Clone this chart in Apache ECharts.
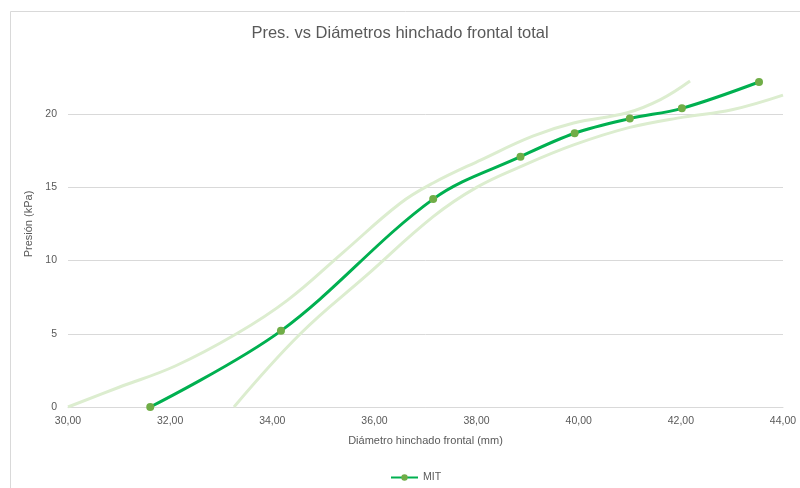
<!DOCTYPE html>
<html>
<head>
<meta charset="utf-8">
<script src="https://cdn.jsdelivr.net/npm/echarts@6/dist/echarts.min.js"></script>
<style>
  html, body { margin: 0; padding: 0; background: #ffffff; }
  #chart { width: 800px; height: 488px; }
</style>
</head>
<body>
<div id="chart"></div>
<script>
// Measured series: swelling diameter (mm) vs pressure (kPa)
const diametro = [31.61, 34.17, 37.15, 38.86, 39.92, 41.00, 42.02, 43.53];
const presion  = [0, 5.2, 14.2, 17.1, 18.7, 19.7, 20.4, 22.2];

// Upper envelope
const bandaSupX = [30.0, 31.0, 32.1, 33.3, 34.3, 35.4, 36.5, 37.15, 38.1, 39.1, 39.9, 40.95, 41.6, 42.18];
const bandaSupY = [0, 1.35, 2.8, 5.0, 7.3, 10.6, 13.9, 15.3, 16.9, 18.5, 19.4, 20.1, 21.0, 22.27];

// Lower envelope
const bandaInfX = [33.25, 34.55, 35.85, 37.15, 38.0, 38.85, 39.9, 41.0, 42.05, 43.0, 44.0];
const bandaInfY = [0, 5.0, 9.0, 13.0, 15.0, 16.4, 17.9, 19.1, 19.8, 20.3, 21.3];

const pares = (xs, ys) => xs.map((x, i) => [x, ys[i]]);

const chart = echarts.init(document.getElementById('chart'));
const gris = '#595959';
const fuente = 'Liberation Sans, Arial, sans-serif';

chart.setOption({
  animation: false,
  backgroundColor: '#ffffff',
  graphic: [{
    type: 'rect',
    shape: { x: 10.5, y: 11.5, width: 800, height: 500 },
    style: { fill: 'none', stroke: '#d9d9d9', lineWidth: 1 },
    silent: true
  }],
  title: {
    text: 'Pres. vs Diámetros hinchado frontal total',
    left: 'center',
    top: 20,
    textStyle: { color: gris, fontSize: 16.5, fontWeight: 'normal', fontFamily: fuente }
  },
  legend: {
    data: ['MIT'],
    left: 385,
    top: 467,
    itemWidth: 27,
    itemHeight: 8,
    textStyle: { color: gris, fontSize: 10.5, fontFamily: fuente }
  },
  grid: { left: 68, right: 17, top: 41, bottom: 81, containLabel: false },
  xAxis: {
    type: 'value',
    min: 30, max: 44, interval: 2,
    name: 'Diámetro hinchado frontal (mm)',
    nameLocation: 'middle',
    nameGap: 28,
    nameTextStyle: { color: gris, fontSize: 11, fontFamily: fuente },
    axisLine: { show: true, lineStyle: { color: '#d9d9d9', width: 1 } },
    axisTick: { show: false },
    splitLine: { show: false },
    axisLabel: {
      color: gris, fontSize: 10.5, fontFamily: fuente, margin: 9,
      formatter: v => v.toFixed(2).replace('.', ',')
    }
  },
  yAxis: {
    type: 'value',
    min: 0, max: 25, interval: 5,
    name: 'Presión (kPa)',
    nameLocation: 'middle',
    nameRotate: 90,
    nameGap: 25,
    nameTextStyle: { color: gris, fontSize: 11, fontFamily: fuente },
    axisLine: { show: false },
    axisTick: { show: false },
    splitLine: { show: true, showMaxLine: false, lineStyle: { color: '#d9d9d9', width: 1 } },
    axisLabel: {
      color: gris, fontSize: 10.5, fontFamily: fuente, margin: 11,
      formatter: v => (v >= 25 ? '' : String(v))
    }
  },
  series: [
    {
      name: 'banda superior',
      type: 'line',
      data: pares(bandaSupX, bandaSupY),
      smooth: 0.4,
      showSymbol: false,
      silent: true,
      lineStyle: { color: '#dcedcf', width: 3 },
      z: 1
    },
    {
      name: 'banda inferior',
      type: 'line',
      data: pares(bandaInfX, bandaInfY),
      smooth: 0.4,
      showSymbol: false,
      silent: true,
      lineStyle: { color: '#dcedcf', width: 3 },
      z: 1
    },
    {
      name: 'MIT',
      type: 'line',
      data: pares(diametro, presion),
      smooth: 0.35,
      symbol: 'circle',
      symbolSize: 8,
      itemStyle: { color: '#70ad47', borderWidth: 0 },
      lineStyle: { color: '#00b050', width: 3 },
      z: 3
    }
  ]
});
</script>
</body>
</html>
